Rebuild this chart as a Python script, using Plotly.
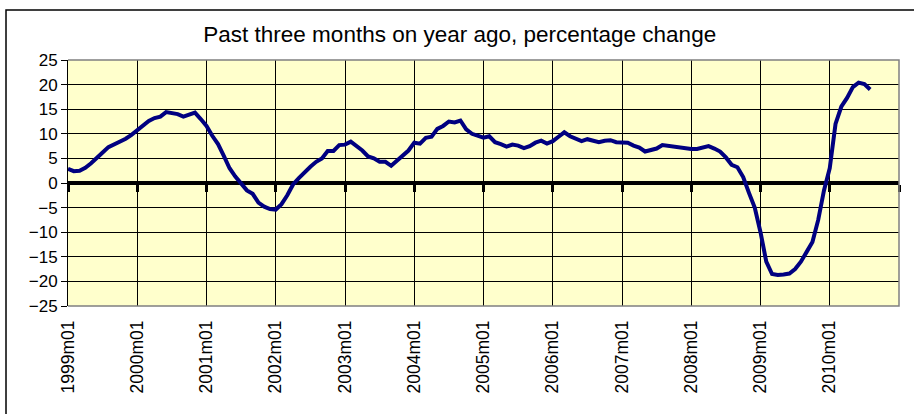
import plotly.graph_objects as go

# ---- data ----
start_year = 1999
values = [
    2.9, 2.4, 2.5, 3.1, 4.0, 5.0, 6.2, 7.3, 7.8, 8.5, 9.0, 9.8,        # 1999
    10.7, 11.7, 12.6, 13.2, 13.5, 14.4, 14.3, 14.0, 13.5, 14.0, 14.3, 13.0,  # 2000
    11.6, 9.6, 7.9, 5.5, 3.0, 1.3, 0.0, -1.5, -2.2, -4.0, -4.8, -5.3,  # 2001
    -5.4, -4.3, -2.5, -0.3, 1.0, 2.2, 3.3, 4.3, 5.0, 6.5, 6.5, 7.7,    # 2002
    7.8, 8.4, 7.6, 6.6, 5.4, 5.0, 4.3, 4.3, 3.5, 4.5, 5.6, 6.6,        # 2003
    8.2, 8.0, 9.2, 9.4, 11.0, 11.6, 12.5, 12.3, 12.7, 10.9, 10.0, 9.6, # 2004
    9.2, 9.5, 8.3, 7.9, 7.4, 7.8, 7.6, 7.1, 7.5, 8.2, 8.6, 8.0,        # 2005
    8.5, 9.4, 10.3, 9.5, 9.0, 8.5, 8.9, 8.5, 8.3, 8.6, 8.7, 8.3,       # 2006
    8.3, 8.2, 7.6, 7.2, 6.4, 6.6, 7.0, 7.7, 7.5, 7.3, 7.1, 7.0,        # 2007
    6.9, 6.9, 7.1, 7.5, 7.0, 6.4, 5.2, 3.7, 3.2, 1.2, -2.0, -5.0,      # 2008
    -10.0, -16.0, -18.5, -18.7, -18.6, -18.4, -17.5, -16.0, -14.0, -12.0, -7.5, -1.5,  # 2009
    3.0, 12.0, 15.5, 17.3, 19.5, 20.4, 20.1, 19.0,                     # 2010
]
categories = [f"{start_year + i // 12}m{i % 12 + 1:02d}" for i in range(len(values))]
tick_labels = ["1999m01", "2000m01", "2001m01", "2002m01", "2003m01", "2004m01",
               "2005m01", "2006m01", "2007m01", "2008m01", "2009m01", "2010m01"]
y_ticks = [-25, -20, -15, -10, -5, 0, 5, 10, 15, 20, 25]
title_text = "Past three months on year ago, percentage change"

# category positions (month index) used by the numeric x axis
x_pos = list(range(len(categories)))
label_pos = [categories.index(t) for t in tick_labels]
n_slots = 12 * len(tick_labels)   # axis spans 1999m01 .. 2011m01
year_ticks = list(range(0, n_slots + 1, 12))

FONT = "Arial, Liberation Sans, sans-serif"

fig = go.Figure()
fig.add_trace(go.Scatter(
    x=x_pos, y=values, mode="lines",
    line=dict(color="#000080", width=4),
    customdata=categories, hovertemplate="%{customdata}: %{y}<extra></extra>",
    showlegend=False,
))
# empty trace to activate the overlay axis used as the category axis at zero
fig.add_trace(go.Scatter(x=[], y=[], xaxis="x2", yaxis="y", showlegend=False))

fig.update_layout(
    width=914, height=414,
    margin=dict(l=68, r=15, t=60, b=108, autoexpand=False),
    paper_bgcolor="white",
    plot_bgcolor="#FFFFCC",
    font=dict(family=FONT, color="black"),
    title=dict(text=title_text, x=0.503, xref="container", xanchor="center",
               y=1 - 34 / 414, yref="container", yanchor="middle",
               font=dict(size=22.5, family=FONT, color="black")),
    xaxis=dict(
        type="linear", range=[0, n_slots], autorange=False, automargin=False,
        tickmode="array", tickvals=label_pos, ticktext=tick_labels,
        tickangle=-90, tickfont=dict(size=17.5, family=FONT),
        ticklabelstandoff=10,
        showgrid=True, gridcolor="black", gridwidth=1,
        ticks="", showline=False, zeroline=False,
    ),
    xaxis2=dict(
        overlaying="x", anchor="free", position=0.5, type="linear",
        range=[0, n_slots], autorange=False, automargin=False,
        tickmode="array", tickvals=year_ticks,
        showticklabels=False, ticks="outside", ticklen=7, tickwidth=3,
        tickcolor="black", showline=True, linewidth=4, linecolor="black",
        showgrid=False, zeroline=False, layer="below traces",
    ),
    yaxis=dict(
        range=[-25, 25], autorange=False, tickmode="array", tickvals=y_ticks,
        automargin=False,
        tickfont=dict(size=17, family=FONT),
        showgrid=True, gridcolor="black", gridwidth=1,
        showline=True, linecolor="black", linewidth=1,
        ticks="outside", ticklen=6, tickcolor="black",
        zeroline=False,
    ),
    shapes=[
        # plot-area frame (top, right, bottom) in grey
        dict(type="path", xref="paper", yref="paper",
             path="M 0 0 L 1 0 L 1 1 L 0 1",
             line=dict(color="#808080", width=1.5), layer="above"),
        # outer chart border
        dict(type="rect", xref="paper", yref="paper",
             x0=-0.0746, x1=1.03, y0=-0.46, y1=1.203,
             line=dict(color="black", width=1.5), layer="above"),
    ],
)

fig.write_html("out.html", config={"displayModeBar": False},
               post_script="document.body.style.margin='0';")
